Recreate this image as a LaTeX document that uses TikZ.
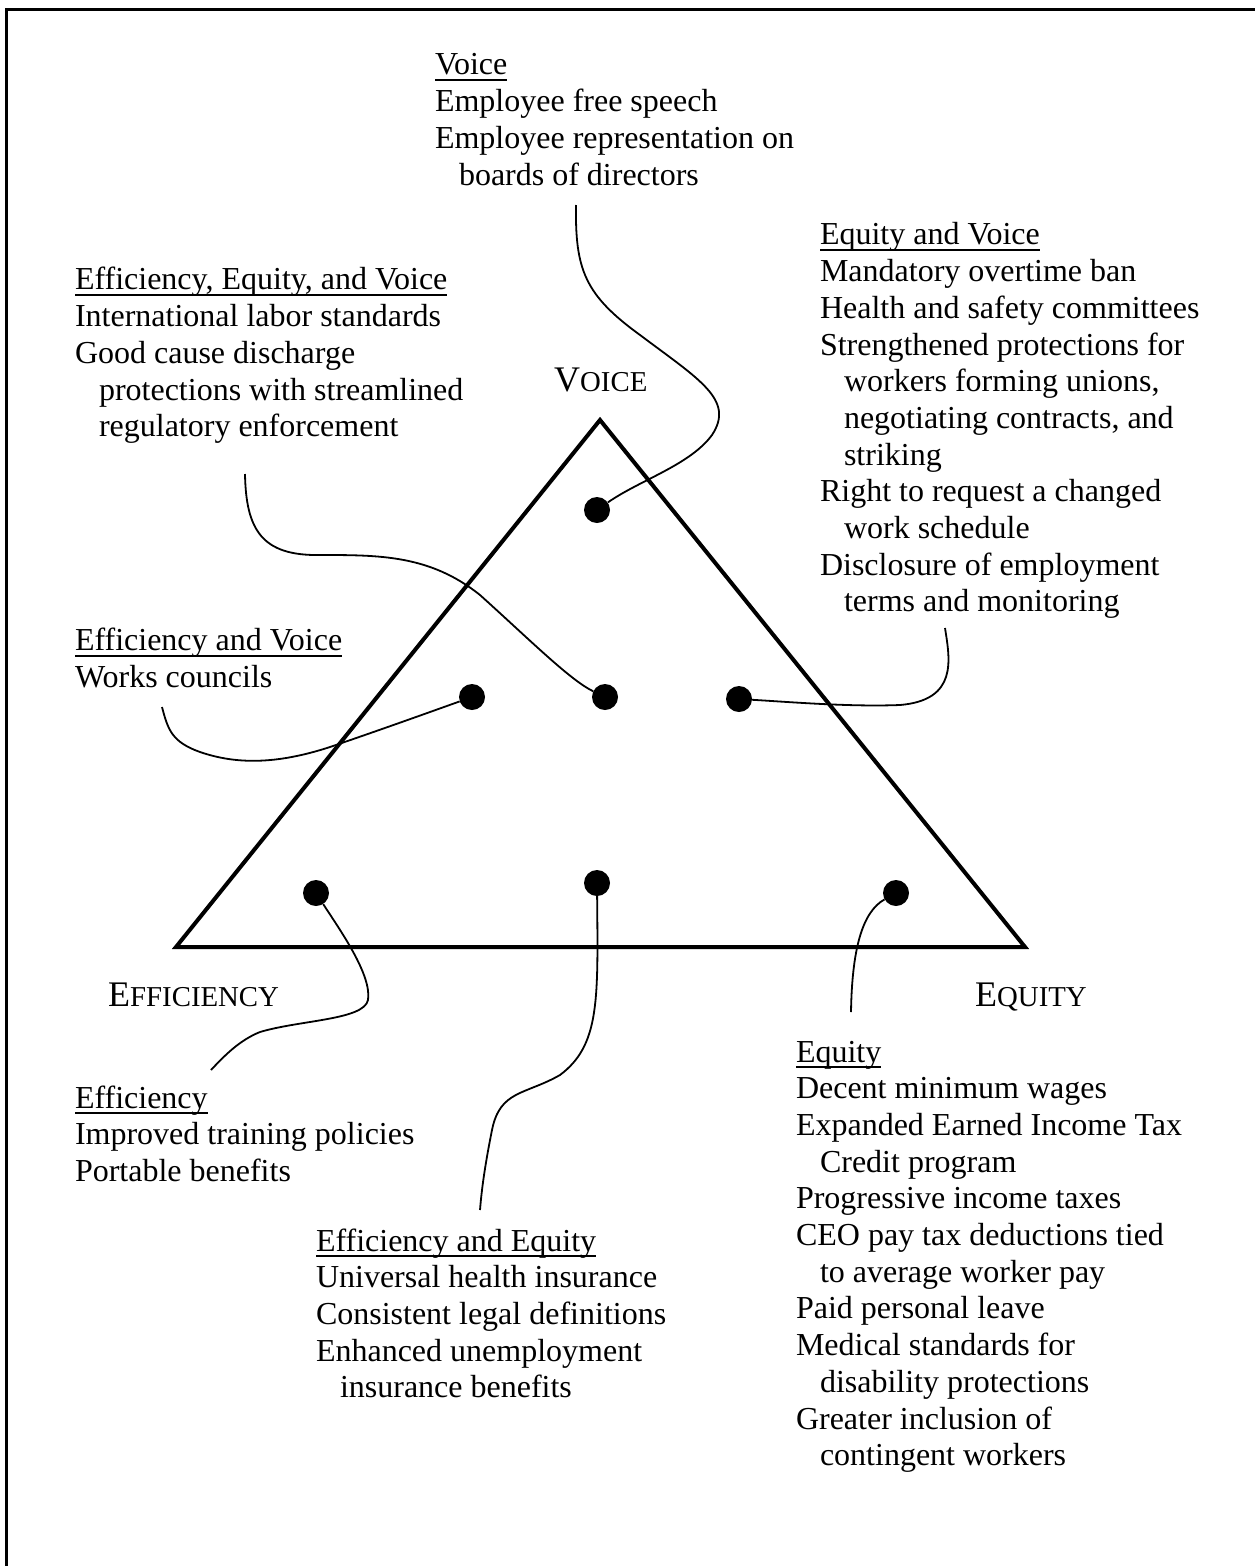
\documentclass[tikz,border=0pt]{standalone}
\usepackage{fontspec}
\setmainfont{Liberation Serif}
\newcommand\hul[1]{\setbox0\hbox{#1}\rlap{\rule[-6pt]{\wd0}{2pt}}\box0}
\newcommand\ind{\hspace*{24pt}}
\newcommand\lab[2]{{\fontsize{36}{40}\selectfont #1}{\fontsize{28.8}{32}\selectfont #2}}
\begin{document}
\begin{tikzpicture}[x=1pt,y=-1pt,
  txt/.style={anchor=north west, inner sep=0pt, outer sep=0pt, align=left, font=\fontsize{32}{36.7}\selectfont},
  lbl/.style={anchor=base west, inner sep=0pt},
  dot/.style={circle, fill=black, inner sep=0pt, minimum size=26pt},
  conn/.style={line width=1.8pt},
  tri/.style={line width=4pt, line join=miter},
  frame/.style={line width=3pt}]
\useasboundingbox (0,0) rectangle (1255,1566);
% frame
\draw[frame] (1255,9.5) -- (6,9.5) -- (6,1566);
% triangle
\coordinate (tA) at (600,420);
\coordinate (tB) at (176,947);
\coordinate (tC) at (1025,947);
\draw[tri] (tA) -- (tB) -- (tC) -- cycle;
% labels
\node[lbl] (lV) at (554,391) {\lab{V}{OICE}};
\node[lbl] (lEf) at (108,1006) {\lab{E}{FFICIENCY}};
\node[lbl] (lEq) at (975,1006) {\lab{E}{QUITY}};
% text blocks (first baseline = y + 25.69)
\node[txt] (bV) at (435,49.3) {\strut\hul{Voice}\\Employee free speech\\Employee representation on\\\ind boards of directors};
\node[txt] (bEV) at (820,219.3) {\strut\hul{Equity and Voice}\\Mandatory overtime ban\\Health and safety committees\\Strengthened protections for\\\ind workers forming unions,\\\ind negotiating contracts, and\\\ind striking\\Right to request a changed\\\ind work schedule\\Disclosure of employment\\\ind terms and monitoring};
\node[txt] (bEEV) at (75,264.3) {\strut\hul{Efficiency, Equity, and Voice}\\International labor standards\\Good cause discharge\\\ind protections with streamlined\\\ind regulatory enforcement};
\node[txt] (bEfV) at (75,625.3) {\strut\hul{Efficiency and Voice}\\Works councils};
\node[txt] (bEf) at (75,1082.3) {\strut\hul{Efficiency}\\Improved training policies\\Portable benefits};
\node[txt] (bEE) at (316,1225.3) {\strut\hul{Efficiency and Equity}\\Universal health insurance\\Consistent legal definitions\\Enhanced unemployment\\\ind insurance benefits};
\node[txt] (bEq) at (796,1036.3) {\strut\hul{Equity}\\Decent minimum wages\\Expanded Earned Income Tax\\\ind Credit program\\Progressive income taxes\\CEO pay tax deductions tied\\\ind to average worker pay\\Paid personal leave\\Medical standards for\\\ind disability protections\\Greater inclusion of\\\ind contingent workers};
% dots
\node[dot] (d1) at (597,510) {};
\node[dot] (d2) at (472,697) {};
\node[dot] (d3) at (605,697) {};
\node[dot] (d4) at (739,699) {};
\node[dot] (d5) at (316,893) {};
\node[dot] (d6) at (597,883) {};
\node[dot] (d7) at (896,893) {};
% connector free ends
\coordinate (cV) at (576,205);
\coordinate (cEEV) at (245,474);
\coordinate (cW) at (162,707);
\coordinate (cEV) at (945,628);
\coordinate (cE) at (211,1070);
\coordinate (cEEq) at (480,1210);
\coordinate (cEq) at (851,1012);
% connectors
\draw[conn] (cV) .. controls (575,270) and (585,295) .. (640,335) .. controls (700,380) and (735,400) .. (712,435) .. controls (690,465) and (640,480) .. (d1);
\draw[conn] (cEEV) .. controls (246,530) and (262,556) .. (320,555) .. controls (380,555) and (430,555) .. (480,595) .. controls (530,640) and (570,680) .. (d3);
\draw[conn] (cW) .. controls (168,730) and (172,742) .. (200,752) .. controls (235,764) and (275,765) .. (330,747) .. controls (380,730) and (430,712) .. (d2);
\draw[conn] (cEV) .. controls (950,660) and (958,700) .. (900,705) .. controls (850,707) and (790,702) .. (d4);
\draw[conn] (d5) .. controls (340,930) and (372,975) .. (368,1000) .. controls (364,1020) and (300,1020) .. (260,1032) .. controls (240,1040) and (225,1055) .. (cE);
\draw[conn] (d6) .. controls (598,1000) and (600,1045) .. (560,1075) .. controls (525,1095) and (500,1090) .. (492,1130) .. controls (486,1160) and (482,1185) .. (cEEq);
\draw[conn] (d7) .. controls (862,912) and (852,950) .. (cEq);
\end{tikzpicture}
\end{document}
